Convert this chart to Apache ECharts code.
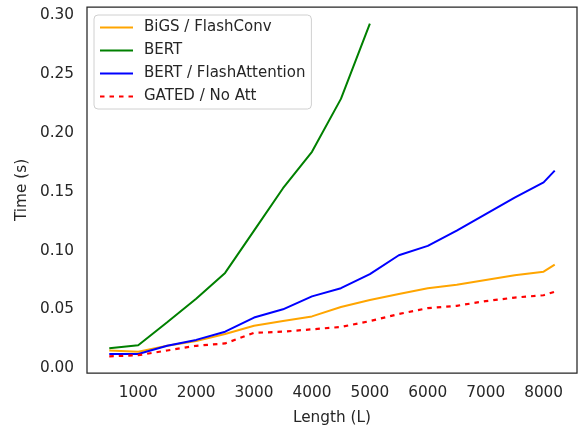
<!DOCTYPE html>
<html><head><meta charset="utf-8">
<script src="https://cdn.jsdelivr.net/npm/echarts@6/dist/echarts.min.js"></script>
<style>html,body{margin:0;padding:0;background:#fff}#c{width:578px;height:431px}</style>
</head><body><div id="c"></div>
<script>
const lengths = [500,1000,1500,2000,2500,3000,3500,4000,4500,5000,5500,6000,6500,7000,7500,8000,8192];
const bigs = [0.015,0.014,0.019,0.023,0.029,0.036,0.040,0.044,0.052,0.058,0.063,0.068,0.071,0.075,0.079,0.082,0.088];
const bert = [0.017,0.0195,0.039,0.059,0.081,0.117,0.153,0.184,0.229,0.293];
const bertFlash = [0.012,0.012,0.019,0.024,0.031,0.043,0.050,0.061,0.068,0.080,0.096,0.104,0.117,0.131,0.145,0.158,0.168];
const gated = [0.010,0.011,0.015,0.019,0.021,0.030,0.031,0.033,0.035,0.040,0.046,0.051,0.053,0.057,0.060,0.062,0.065];
const xTicks = [1000,2000,3000,4000,5000,6000,7000,8000];
const yTicks = [0,0.05,0.10,0.15,0.20,0.25,0.30];
const names = ['BiGS / FlashConv','BERT','BERT / FlashAttention','GATED / No Att'];

const pairs = v => v.map((y,i)=>[lengths[i], y]);
const font = 'DejaVu Sans';
const fs = 15.3;
const txt = '#262626';
const chart = echarts.init(document.getElementById('c'));
chart.setOption({
  animation:false,
  textStyle:{fontFamily:font},
  grid:{left:87,right:1,top:7,bottom:58,show:true,borderColor:txt,borderWidth:1.25,backgroundColor:'#fff'},
  xAxis:{type:'value',min:115.4,max:8576.6,
    name:'Length (L)',nameLocation:'middle',nameGap:38,
    nameTextStyle:{fontFamily:font,fontSize:fs,color:txt},
    axisLine:{show:false},axisTick:{show:false},splitLine:{show:false},
    axisLabel:{customValues:xTicks,fontFamily:font,fontSize:fs,color:txt,margin:13,
      formatter:v=>String(v)}},
  yAxis:{type:'value',min:-0.00415,max:0.30715,
    name:'Time (s)',nameLocation:'middle',nameGap:57,nameRotate:90,
    nameTextStyle:{fontFamily:font,fontSize:fs,color:txt},
    axisLine:{show:false},axisTick:{show:false},splitLine:{show:false},
    axisLabel:{customValues:yTicks,fontFamily:font,fontSize:fs,color:txt,margin:13,
      formatter:v=>v.toFixed(2)}},
  legend:{orient:'vertical',left:94,top:15,
    data:names,
    backgroundColor:'#fff',borderColor:'#d0d0d0',borderWidth:1,borderRadius:4,
    padding:[5,6,5,5],itemWidth:33,itemHeight:14,itemGap:8,
    itemStyle:{opacity:0},
    textStyle:{fontFamily:font,fontSize:15,color:txt,lineHeight:15,padding:[0,0,0,6]}},
  series:[
    {name:names[0],type:'line',data:pairs(bigs),symbol:'none',color:'#FFA500',lineStyle:{width:2,color:'#FFA500'}},
    {name:names[1],type:'line',data:pairs(bert),symbol:'none',color:'#008000',lineStyle:{width:2,color:'#008000'}},
    {name:names[2],type:'line',data:pairs(bertFlash),symbol:'none',color:'#0000FF',lineStyle:{width:2,color:'#0000FF'}},
    {name:names[3],type:'line',data:pairs(gated),symbol:'none',color:'#FF0000',lineStyle:{width:2.2,color:'#FF0000',type:[4.5,5]}}
  ]
});
</script></body></html>
